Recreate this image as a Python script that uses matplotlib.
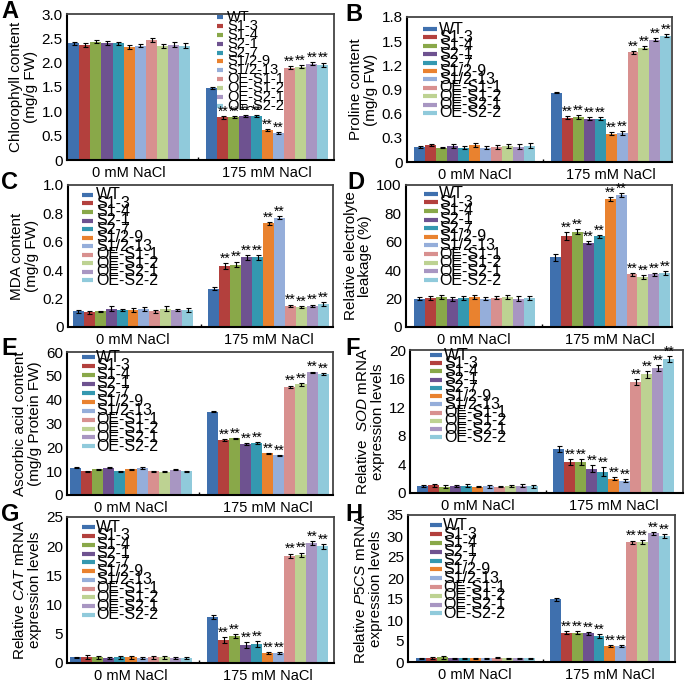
import matplotlib
matplotlib.use('Agg')

import matplotlib.pyplot as plt
import matplotlib.ticker as mticker
import numpy as np

plt.rcParams['font.family'] = ['Liberation Sans', 'DejaVu Sans']
plt.rcParams['mathtext.fontset'] = 'custom'
plt.rcParams['mathtext.it'] = 'Liberation Sans:italic'
plt.rcParams['mathtext.rm'] = 'Liberation Sans'

# lines (legend order == bar order)
lines = ['WT', 'S1-3', 'S1-4', 'S2-1', 'S2-7', 'S1/2-9', 'S1/2-13',
         'OE-S1-1', 'OE-S1-2', 'OE-S2-1', 'OE-S2-2']
colors = ['#3F70AE', '#B3403D', '#89A849', '#6E5290', '#3498B0', '#E9822F',
          '#95AEDA', '#D8908F', '#BDD292', '#A896C2', '#90CADB']
groups = ['0 mM NaCl', '175 mM NaCl']
sig175 = ['', '**', '**', '**', '**', '**', '**', '**', '**', '**', '**']

# A chlorophyll
chl_0 = [2.40, 2.36, 2.43, 2.41, 2.40, 2.32, 2.35, 2.46, 2.34, 2.37, 2.35]
chl_0_err = [0.03, 0.04, 0.03, 0.04, 0.03, 0.04, 0.03, 0.04, 0.04, 0.05, 0.05]
chl_175 = [1.47, 0.88, 0.89, 0.91, 0.90, 0.61, 0.56, 1.90, 1.92, 1.98, 1.96]
chl_175_err = [0.02, 0.03, 0.02, 0.02, 0.02, 0.02, 0.02, 0.03, 0.03, 0.03, 0.04]

# B proline
pro_0 = [0.19, 0.21, 0.18, 0.20, 0.18, 0.21, 0.18, 0.19, 0.20, 0.19, 0.20]
pro_0_err = [0.01, 0.015, 0.01, 0.02, 0.02, 0.025, 0.02, 0.025, 0.02, 0.03, 0.03]
pro_175 = [0.86, 0.55, 0.56, 0.54, 0.54, 0.35, 0.36, 1.36, 1.42, 1.52, 1.57]
pro_175_err = [0.005, 0.02, 0.02, 0.02, 0.02, 0.02, 0.02, 0.02, 0.02, 0.02, 0.02]

# C MDA
mda_0 = [0.11, 0.105, 0.11, 0.13, 0.12, 0.12, 0.125, 0.11, 0.13, 0.12, 0.12]
mda_0_err = [0.01, 0.01, 0.005, 0.015, 0.01, 0.015, 0.015, 0.01, 0.015, 0.01, 0.015]
mda_175 = [0.27, 0.43, 0.44, 0.49, 0.49, 0.73, 0.77, 0.15, 0.14, 0.15, 0.16]
mda_175_err = [0.01, 0.02, 0.02, 0.015, 0.015, 0.01, 0.01, 0.008, 0.008, 0.008, 0.015]

# D electrolyte leakage
el_0 = [20.0, 20.5, 21.0, 20.0, 20.5, 21.0, 20.0, 20.5, 21.0, 20.0, 20.5]
el_0_err = [1.2, 1.3, 1.5, 1.4, 1.2, 1.3, 1.0, 1.0, 1.4, 1.5, 1.2]
el_175 = [49, 64, 67, 59.5, 64, 90, 93, 37, 35, 37, 38]
el_175_err = [2.5, 3.0, 1.8, 1.2, 1.0, 1.6, 1.2, 1.0, 1.5, 1.2, 1.3]

# E ascorbic acid
asa_0 = [11.5, 10.0, 10.8, 11.5, 10.0, 10.8, 11.5, 10.0, 9.8, 10.5, 10.0]
asa_0_err = [0.2, 0.2, 0.3, 0.2, 0.2, 0.3, 0.4, 0.2, 0.1, 0.2, 0.2]
asa_175 = [35.0, 23.0, 23.8, 21.3, 21.8, 17.5, 16.6, 45.5, 46.5, 51.5, 50.8]
asa_175_err = [0.3, 0.4, 0.2, 0.4, 0.5, 0.2, 0.2, 0.4, 0.6, 0.3, 0.4]

# F SOD
sod_0 = [1.0, 1.05, 0.9, 0.95, 1.0, 0.9, 0.95, 0.9, 0.95, 1.0, 0.95]
sod_0_err = [0.1, 0.25, 0.25, 0.15, 0.2, 0.1, 0.2, 0.1, 0.15, 0.2, 0.2]
sod_175 = [6.2, 4.3, 4.3, 3.4, 3.0, 2.0, 1.7, 15.5, 16.6, 17.5, 18.7]
sod_175_err = [0.4, 0.4, 0.4, 0.5, 0.6, 0.2, 0.2, 0.4, 0.5, 0.4, 0.4]

# G CAT
cat_0 = [0.95, 1.0, 0.95, 0.9, 0.95, 0.95, 0.9, 0.95, 0.95, 0.9, 0.9]
cat_0_err = [0.1, 0.3, 0.2, 0.15, 0.2, 0.2, 0.15, 0.2, 0.2, 0.15, 0.15]
cat_175 = [7.8, 4.0, 4.6, 3.1, 3.2, 1.7, 1.65, 18.4, 18.5, 20.5, 20.0]
cat_175_err = [0.35, 0.5, 0.35, 0.45, 0.5, 0.15, 0.15, 0.35, 0.4, 0.35, 0.4]

# H P5CS
p5cs_0 = [0.9, 0.9, 1.1, 0.9, 0.9, 0.9, 0.85, 1.0, 0.9, 0.9, 0.9]
p5cs_0_err = [0.1, 0.3, 0.3, 0.1, 0.15, 0.15, 0.2, 0.15, 0.15, 0.1, 0.1]
p5cs_175 = [14.9, 7.0, 7.0, 6.8, 6.2, 3.8, 3.8, 28.5, 28.6, 30.6, 30.0]
p5cs_175_err = [0.35, 0.4, 0.35, 0.4, 0.5, 0.2, 0.2, 0.4, 0.5, 0.35, 0.4]

W, H = 685, 682
fig = plt.figure(figsize=(W / 100, H / 100), dpi=100)

GAP = 12.4  # start of second group (bar width = 1)


def px_axes(l, t, r, b):
    return fig.add_axes([l / W, 1 - b / H, (r - l) / W, (b - t) / H])


def panel(box, letter, lpos, v0, e0, v1, e1, ylim, ystep, fmt, ylabel,
          xl, xr, leg, legsize=11.5):
    ax = px_axes(*box)
    x0 = np.arange(11) + 0.5
    x1 = x0 + GAP
    ax.bar(x0, v0, width=1.0, color=colors, yerr=e0, capsize=1.8,
           error_kw=dict(elinewidth=0.8, capthick=0.8, ecolor='black'))
    ax.bar(x1, v1, width=1.0, color=colors, yerr=e1, capsize=1.8,
           error_kw=dict(elinewidth=0.8, capthick=0.8, ecolor='black'))
    for xi, v, e, s in zip(x1, v1, e1, sig175):
        if s:
            ax.annotate(s, (xi, v + e), xytext=(0, 0.3), textcoords='offset points',
                        ha='center', va='baseline', fontsize=10)
    ax.set_xlim(xl, xr)
    ax.set_ylim(0, ylim)
    ax.yaxis.set_major_locator(mticker.MultipleLocator(ystep))
    ax.yaxis.set_major_formatter(mticker.FuncFormatter(
        lambda v, p: '0' if abs(v) < 1e-9 else fmt.format(v)))
    ax.set_xticks([5.5, GAP + 5.5])
    ax.set_xticklabels(groups, fontsize=10.5)
    ax.set_xticks([(11 + GAP) / 2], minor=True)
    ax.tick_params(axis='x', which='major', length=0, pad=4)
    ax.tick_params(axis='x', which='minor', length=2.5, direction='in', width=1)
    ax.tick_params(axis='y', length=0, pad=3, labelsize=11)
    for sp in ['left', 'bottom']:
        ax.spines[sp].set_linewidth(1.5)
        ax.spines[sp].set_color('black')
    for sp in ['top', 'right']:
        ax.spines[sp].set_linewidth(1.3)
        ax.spines[sp].set_color('#444444')
    ax.set_ylabel(ylabel, fontsize=11, linespacing=1.05, labelpad=3)

    # legend drawn as tightly packed rows, like the original figure
    hx0, hx1, tx, ytop, ybot = leg
    ys = np.linspace(ytop, ybot, len(lines))
    for name, c, yy in zip(lines, colors, ys):
        ax.plot([hx0, hx1], [yy, yy], color=c, lw=3, transform=ax.transAxes,
                solid_capstyle='butt', clip_on=False)
        ax.text(tx, yy, name, transform=ax.transAxes, fontsize=legsize,
                va='center', ha='left')
    fig.text(lpos[0] / W, 1 - lpos[1] / H, letter, fontsize=17,
             fontweight='bold', va='top', ha='left')
    return ax


panel((67, 14, 334, 160), 'A', (1, 0), chl_0, chl_0_err, chl_175, chl_175_err,
      3.0, 0.5, '{:.1f}', 'Chlorophyll content\n(mg/g FW)', -0.1, 23.9,
      (0.56, 0.585, 0.6, 0.98, 0.37), legsize=10.5)
panel((407, 17, 672, 162), 'B', (345, 3), pro_0, pro_0_err, pro_175, pro_175_err,
      1.8, 0.3, '{:.1f}', 'Proline content\n(mg/g FW)', -0.67, 23.45,
      (0.06, 0.113, 0.12, 0.917, 0.338))
panel((68, 185, 333, 327), 'C', (1, 171), mda_0, mda_0_err, mda_175, mda_175_err,
      1.0, 0.2, '{:.1f}', 'MDA content\n(mg/g FW)', -0.45, 23.8,
      (0.053, 0.094, 0.105, 0.93, 0.33))
panel((406, 185, 672, 327), 'D', (347, 171), el_0, el_0_err, el_175, el_175_err,
      100, 20, '{:.0f}', 'Relative electrolyte\nleakage (%)', -0.73, 23.55,
      (0.067, 0.12, 0.124, 0.94, 0.33))
panel((67, 352, 333, 495), 'E', (1, 337), asa_0, asa_0_err, asa_175, asa_175_err,
      60, 10, '{:.0f}', 'Ascorbic acid content\n(mg/g Protein FW)', -0.3, 23.8,
      (0.056, 0.105, 0.109, 0.965, 0.34))
panel((410, 350, 683, 493), 'F', (345, 337), sod_0, sod_0_err, sod_175, sod_175_err,
      20, 4, '{:.0f}', 'Relative  $\\mathit{SOD}$ mRNA\nexpression levels', -0.67, 24.2,
      (0.073, 0.116, 0.124, 0.965, 0.39))
panel((67, 517, 334, 663), 'G', (1, 503), cat_0, cat_0_err, cat_175, cat_175_err,
      25, 5, '{:.0f}', 'Relative $\\mathit{CAT}$ mRNA\nexpression levels', -0.3, 23.9,
      (0.056, 0.105, 0.109, 0.93, 0.33))
panel((408, 515, 675, 662), 'H', (345, 503), p5cs_0, p5cs_0_err, p5cs_175, p5cs_175_err,
      35, 5, '{:.0f}', 'Relative $\\mathit{P5CS}$ mRNA\nexpression levels', -0.7, 23.9,
      (0.082, 0.127, 0.131, 0.93, 0.33))

plt.savefig('out.png', dpi=100)
plt.close()
